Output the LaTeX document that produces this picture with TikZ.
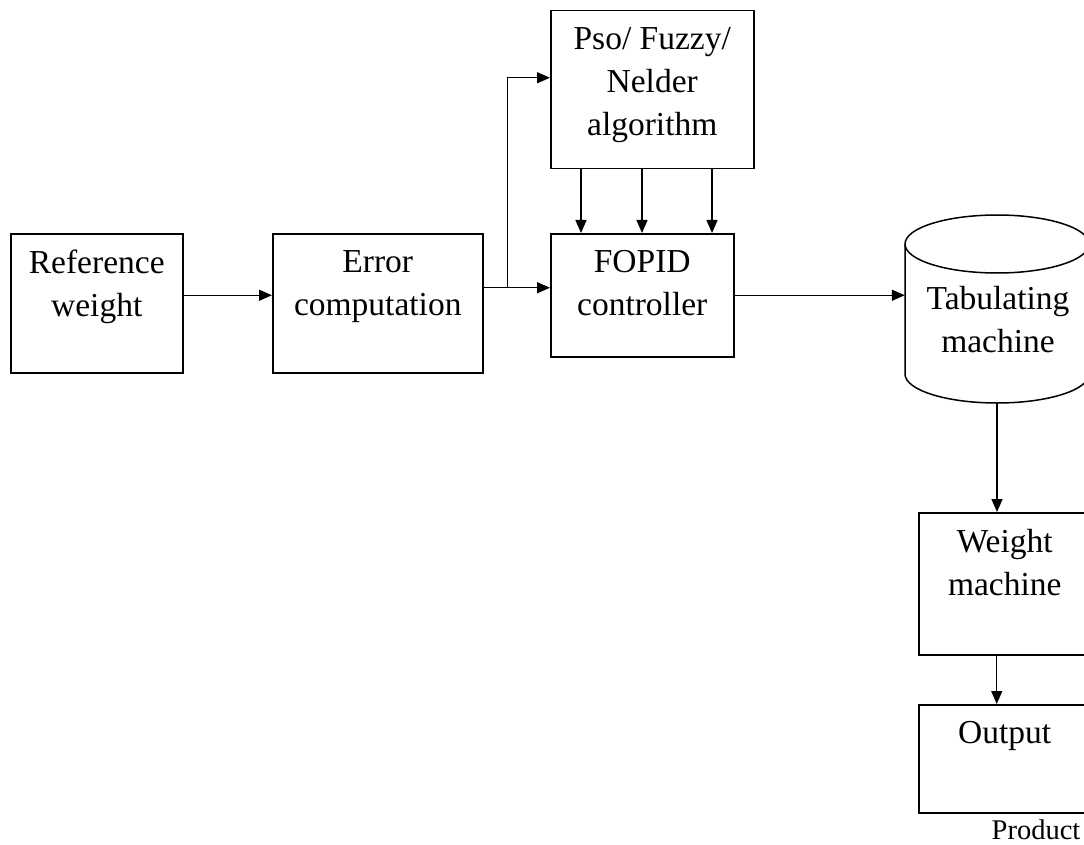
\documentclass[tikz,border=0pt]{standalone}
\usepackage{fontspec}
\setmainfont{Liberation Serif}
\usetikzlibrary{arrows.meta}
\begin{document}
\begin{tikzpicture}[x=1pt,y=-1pt,
  box/.style={draw, line width=1.5pt, rectangle, anchor=north west, inner sep=0pt},
  boxtext/.style={align=center, inner sep=0pt, font=\fontsize{33.5}{43}\selectfont},
  arr/.style={line width=1.4pt, -{Triangle[length=13pt,width=11pt]}},
  ln/.style={line width=1.5pt}]
\useasboundingbox (0,0) rectangle (1084,845);
% boxes
\node[box, minimum width=172pt, minimum height=139pt,
  label={[boxtext, anchor=north, yshift=-17pt]north:{Reference\\weight}}] (ref) at (10,233) {};
\node[box, minimum width=210pt, minimum height=139pt,
  label={[boxtext, anchor=north, yshift=-17pt]north:{Error\\computation}}] (err) at (272,233) {};
\node[box, minimum width=183pt, minimum height=123pt,
  label={[boxtext, anchor=north, yshift=-17pt]north:{FOPID\\controller}}] (fopid) at (550,233) {};
\node[box, minimum width=203pt, minimum height=158pt,
  label={[boxtext, anchor=north, yshift=-17pt]north:{Pso/ Fuzzy/\\Nelder\\algorithm}}] (pso) at (550,10) {};
\node[box, minimum width=172pt, minimum height=142pt,
  label={[boxtext, anchor=north, yshift=-17pt]north:{Weight\\machine}}] (wm) at (918,512) {};
\node[box, minimum width=172pt, minimum height=108pt,
  label={[boxtext, anchor=north, yshift=-17pt]north:{Output}}] (out) at (918,704) {};
% cylinder
\node[inner sep=0pt, minimum width=184pt, minimum height=188pt] (tab) at (997,309) {};
\draw[ln] (997,244) ellipse [x radius=92, y radius=29];
\draw[ln] (905,244) -- (905,374) arc[start angle=180, end angle=0, x radius=92, y radius=29] -- (1089,244);
\node[boxtext] (tabtxt) at (998,320) {Tabulating\\machine};
% product label
\node[inner sep=0pt, anchor=base, font=\fontsize{28.5}{30}\selectfont] (prod) at (1036,839) {Product};
% connectors
\draw[arr] ([yshift=8pt]ref.east) -- ([yshift=8pt]err.west);
\coordinate (eo) at ([yshift=15.5pt]err.east);
\coordinate (br) at ([xshift=24pt]eo);
\draw[arr] (eo) -- (eo -| fopid.west);
\draw[arr] (br) |- ([yshift=12pt]pso.west);
\foreach \dx/\i in {31/1,92/2,162/3}{
  \path (pso.south west) ++(\dx,0) coordinate (p\i);
  \draw[arr] (p\i) -- (p\i |- fopid.north);
}
\draw[arr] (fopid.east) -- (fopid.east -| tab.west);
\draw[arr] (tab.south) -- (tab.south |- wm.north);
\coordinate (ws) at ([xshift=-8pt]wm.south);
\draw[arr] (ws) -- (ws |- out.north);
\end{tikzpicture}
\end{document}
